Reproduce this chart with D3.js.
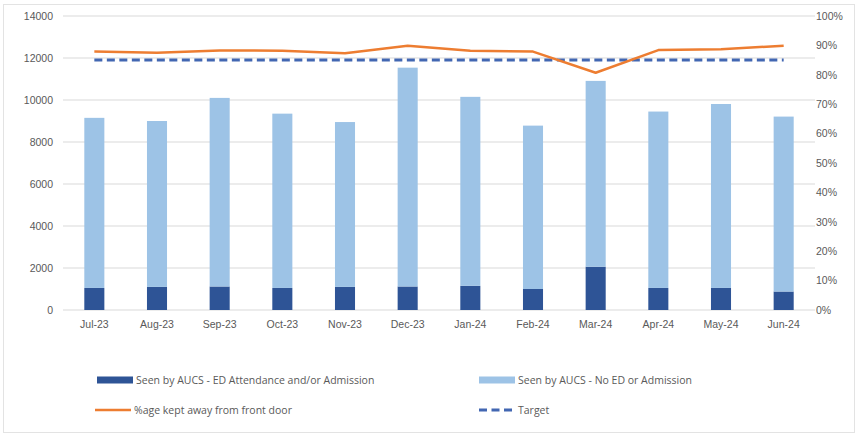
<!DOCTYPE html>
<html>
<head>
<meta charset="utf-8">
<script src="https://cdn.jsdelivr.net/npm/d3@7"></script>
<style>
  html, body { margin: 0; padding: 0; background: #fff; }
  svg { display: block; font-family: "Open Sans", "Liberation Sans", sans-serif; }
</style>
</head>
<body>
<svg id="chart" width="859" height="438"></svg>
<script>
// Monthly AUCS activity, Jul-23 to Jun-24
const months = ["Jul-23","Aug-23","Sep-23","Oct-23","Nov-23","Dec-23","Jan-24","Feb-24","Mar-24","Apr-24","May-24","Jun-24"];
const edAttendance = [1050, 1100, 1120, 1050, 1100, 1120, 1150, 1000, 2060, 1050, 1050, 880];
const noEdOrAdmission = [8100, 7900, 8980, 8300, 7850, 10420, 9000, 7780, 8850, 8400, 8760, 8330];
const keptAwayPct = [0.879, 0.875, 0.883, 0.882, 0.873, 0.899, 0.882, 0.879, 0.807, 0.884, 0.887, 0.899];
const targetPct = [0.85, 0.85, 0.85, 0.85, 0.85, 0.85, 0.85, 0.85, 0.85, 0.85, 0.85, 0.85];
const leftTicks = [0, 2000, 4000, 6000, 8000, 10000, 12000, 14000];
const rightTicks = [0, 0.1, 0.2, 0.3, 0.4, 0.5, 0.6, 0.7, 0.8, 0.9, 1.0];

const colors = {
  dark: "#2E5496",
  light: "#9DC3E6",
  orange: "#ED7D31",
  target: "#4267B2",
  grid: "#D9D9D9",
  text: "#595959"
};

const svg = d3.select("#chart");
const plot = { left: 63, right: 815, top: 16, bottom: 310 };

// chart frame
svg.append("rect")
  .attr("x", 3.5).attr("y", 4.5).attr("width", 851).attr("height", 428)
  .attr("fill", "none").attr("stroke", "#E3E3E3");

const x = d3.scaleBand().domain(months).range([plot.left, plot.right]).paddingInner(0.68).paddingOuter(0.34);
const y = d3.scaleLinear().domain([0, 14000]).range([plot.bottom, plot.top]);
const y2 = d3.scaleLinear().domain([0, 1]).range([plot.bottom, plot.top]);

// gridlines
svg.append("g").selectAll("line").data(leftTicks).join("line")
  .attr("x1", plot.left).attr("x2", plot.right)
  .attr("y1", d => y(d)).attr("y2", d => y(d))
  .attr("stroke", colors.grid).attr("stroke-width", 1);

// left axis
const leftAxis = svg.append("g").attr("transform", `translate(${plot.left - 10},0)`)
  .call(d3.axisLeft(y).tickValues(leftTicks).tickSize(0).tickPadding(0).tickFormat(d3.format("d")));
leftAxis.select(".domain").remove();
leftAxis.selectAll("text").attr("fill", colors.text).attr("font-size", 10.5);

// right axis
const rightAxis = svg.append("g").attr("transform", `translate(${plot.right + 1},0)`)
  .call(d3.axisRight(y2).tickValues(rightTicks).tickSize(0).tickPadding(0).tickFormat(d3.format(".0%")));
rightAxis.select(".domain").remove();
rightAxis.selectAll("text").attr("fill", colors.text).attr("font-size", 10.5);

// bottom axis labels
const bottomAxis = svg.append("g").attr("transform", `translate(0,${plot.bottom})`)
  .call(d3.axisBottom(x).tickSize(0).tickPadding(11));
bottomAxis.select(".domain").remove();
bottomAxis.selectAll("text").attr("fill", colors.text).attr("font-size", 10.5);

// stacked bars
const stackData = months.map((m, i) => ({ month: m, ed: edAttendance[i], noEd: noEdOrAdmission[i] }));
const series = d3.stack().keys(["ed", "noEd"])(stackData);
const fills = { ed: colors.dark, noEd: colors.light };
svg.append("g").selectAll("g").data(series).join("g")
  .attr("fill", s => fills[s.key])
  .selectAll("rect").data(s => s).join("rect")
  .attr("x", d => x(d.data.month))
  .attr("width", x.bandwidth())
  .attr("y", d => y(d[1]))
  .attr("height", d => y(d[0]) - y(d[1]));

const cx = m => x(m) + x.bandwidth() / 2;

// target line
svg.append("path")
  .datum(targetPct)
  .attr("fill", "none")
  .attr("stroke", colors.target)
  .attr("stroke-width", 3)
  .attr("stroke-dasharray", "8,4.5")
  .attr("d", d3.line().x((d, i) => cx(months[i])).y(d => y2(d)));

// % kept away line
svg.append("path")
  .datum(keptAwayPct)
  .attr("fill", "none")
  .attr("stroke", colors.orange)
  .attr("stroke-width", 2.5)
  .attr("stroke-linejoin", "round")
  .attr("d", d3.line().x((d, i) => cx(months[i])).y(d => y2(d)));

// legend
const legendItems = [
  { label: "Seen by AUCS -  ED Attendance and/or Admission", type: "bar", color: colors.dark, x: 97, y: 380 },
  { label: "Seen by AUCS - No ED or Admission", type: "bar", color: colors.light, x: 479, y: 380 },
  { label: "%age kept away from front door", type: "line", color: colors.orange, x: 95, y: 410 },
  { label: "Target", type: "dash", color: colors.target, x: 479, y: 410 }
];
const legend = svg.append("g").selectAll("g").data(legendItems).join("g")
  .attr("transform", d => `translate(${d.x},${d.y})`);
legend.each(function(d) {
  const g = d3.select(this);
  if (d.type === "bar") {
    g.append("rect").attr("x", 0).attr("y", -3.5).attr("width", 36).attr("height", 7).attr("fill", d.color);
  } else {
    g.append("line").attr("x1", 0).attr("x2", 36).attr("y1", 0).attr("y2", 0)
      .attr("stroke", d.color).attr("stroke-width", d.type === "dash" ? 3 : 2.5)
      .attr("stroke-dasharray", d.type === "dash" ? "8,4.5" : null);
  }
  g.append("text").attr("x", 39).attr("y", 0).attr("dy", "0.35em")
    .attr("fill", colors.text).attr("font-size", 10.5).text(d.label);
});
</script>
</body>
</html>
